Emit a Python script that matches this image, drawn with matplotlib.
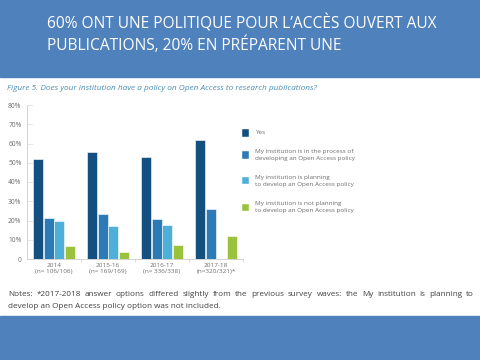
import matplotlib
matplotlib.use("Agg")
import matplotlib.pyplot as plt
from matplotlib.patches import Rectangle
import numpy as np

# data
waves = ["2014\n(n= 106/106)", "2015-16\n(n= 169/169)", "2016-17\n(n= 336/338)", "2017-18\n(n=320/321)*"]
yes_vals = [52, 55.5, 53, 62]
process_vals = [21.5, 23.5, 21, 26]
planning_vals = [19.5, 17, 17.5, None]
not_planning_vals = [6.5, 3.5, 7.5, 12]

series_names = ["Yes",
                "My institution is in the process of\ndeveloping an Open Access policy",
                "My institution is planning\nto develop an Open Access policy",
                "My institution is not planning\nto develop an Open Access policy"]
series_colors = ["#14507f", "#2c7bb6", "#4eafd9", "#9bc23c"]

title = "60% ONT UNE POLITIQUE POUR L\u2019ACC\u00c8S OUVERT AUX\nPUBLICATIONS, 20% EN PR\u00c9PARENT UNE"
caption = "Figure 5. Does your institution have a policy on Open Access to research publications?"
notes1 = ("Notes: *2017-2018 answer options differed slightly from the previous survey waves: "
          "the My institution is planning to")
notes2 = "develop an Open Access policy option was not included."

band = "#4f81bd"
grey_txt = "#6d6d6d"

fig = plt.figure(figsize=(4.8, 3.6), dpi=100)
fig.patches.append(Rectangle((0, 1 - 77 / 360), 1, 77 / 360, transform=fig.transFigure,
                             color=band, zorder=0))
fig.patches.append(Rectangle((0, 0), 1, 44 / 360, transform=fig.transFigure,
                             color=band, zorder=0))

fig.text(47 / 480, 1 - 34 / 360, title, color="white", fontsize=11.2, family="Open Sans",
         va="center", ha="left", linespacing=1.3)
fig.text(7 / 480, 1 - 88 / 360, caption, color="#4a8db5", fontsize=5.95, style="italic",
         family="Open Sans", va="center", ha="left")

ax = fig.add_axes([27 / 480, 1 - 259 / 360, 216 / 480, 154 / 360])
all_series = [yes_vals, process_vals, planning_vals, not_planning_vals]
x = np.arange(len(waves))
pitch = 0.195
for i, (vals, col) in enumerate(zip(all_series, series_colors)):
    xs = [xi + (i - 1.5) * pitch for xi, v in zip(x, vals) if v is not None]
    hs = [v for v in vals if v is not None]
    ax.bar(xs, hs, width=0.18, color=col, edgecolor="white", linewidth=0.4, zorder=3)

ax.set_xlim(-0.5, 3.5)
ax.set_ylim(0, 80)
ax.set_yticks(range(0, 81, 10))
ax.set_yticklabels(["0"] + [f"{v}%" for v in range(10, 81, 10)])
ax.set_xticks(x)
ax.set_xticklabels(waves)
ax.set_xticks([0.5, 1.5, 2.5, 3.5], minor=True)
ax.tick_params(axis="x", which="major", length=0, labelsize=4.6, labelcolor=grey_txt, pad=3)
ax.tick_params(axis="x", which="minor", length=2, color="#cccccc", width=0.5)
ax.tick_params(axis="y", direction="in", length=4, color="#dddddd", width=0.5,
               labelsize=4.8, labelcolor=grey_txt, pad=4)
for lab in ax.get_xticklabels() + ax.get_yticklabels():
    lab.set_family("Open Sans")
for s in ["top", "right"]:
    ax.spines[s].set_visible(False)
for s in ["left", "bottom"]:
    ax.spines[s].set_color("#cccccc")
    ax.spines[s].set_linewidth(0.6)

# legend, drawn as squares + text
leg_y = [133, 155, 181, 207]
for name, col, yy in zip(series_names, series_colors, leg_y):
    fig.patches.append(Rectangle((242 / 480, 1 - (yy + 3.5) / 360), 7 / 480, 7 / 360,
                                 transform=fig.transFigure, facecolor=col,
                                 edgecolor="white", linewidth=0.3))
    fig.text(255 / 480, 1 - yy / 360, name, fontsize=4.6, color=grey_txt, family="Open Sans",
             va="center", ha="left", linespacing=1.4)

# notes, first line justified
fig.canvas.draw()
renderer = fig.canvas.get_renderer()
words = notes1.split(" ")
left, right = 8, 474
y1 = 1 - 295 / 360
note_kw = dict(fontsize=5.9, color="#404040", va="center", ha="left", family="Open Sans")
arts = [fig.text(0, y1, w, **note_kw) for w in words]
widths = [a.get_window_extent(renderer).width for a in arts]
gap = (right - left - sum(widths)) / (len(words) - 1)
pos = left
for a, w in zip(arts, widths):
    a.set_x(pos / 480)
    pos += w + gap
fig.text(left / 480, 1 - 307 / 360, notes2, **note_kw)

fig.savefig("out.png", dpi=100)
